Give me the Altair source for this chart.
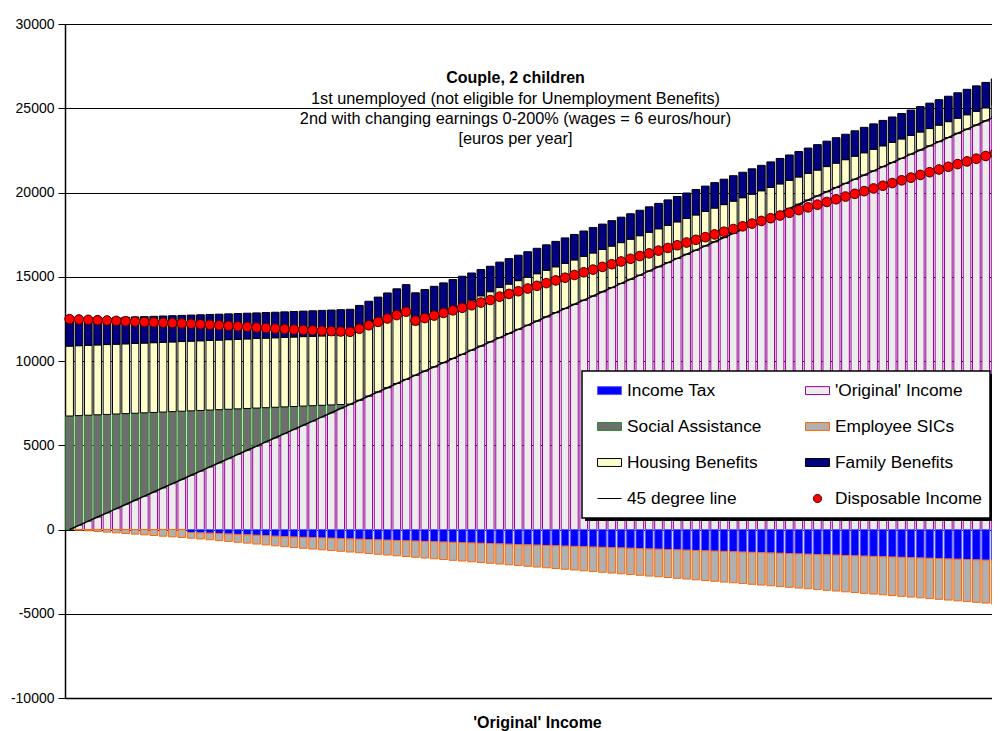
import altair as alt
import pandas as pd

# ---- data (euros per year), one value per 2% earnings step (0..200%)
original_income = [0, 248, 495, 743, 990, 1238, 1485, 1733, 1980, 2228, 2475, 2723, 2970, 3218, 3465, 3713, 3960, 4208, 4455, 4703,
                   4950, 5198, 5445, 5693, 5940, 6188, 6435, 6683, 6930, 7178, 7425, 7673, 7920, 8168, 8415, 8663, 8910, 9158, 9405, 9653,
                   9900, 10148, 10395, 10643, 10890, 11138, 11385, 11633, 11880, 12128, 12375, 12623, 12870, 13118, 13365, 13613, 13860, 14108, 14355, 14603,
                   14850, 15098, 15345, 15593, 15840, 16088, 16335, 16583, 16830, 17078, 17325, 17573, 17820, 18068, 18315, 18563, 18810, 19058, 19305, 19553,
                   19800, 20048, 20295, 20543, 20790, 21038, 21285, 21533, 21780, 22028, 22275, 22523, 22770, 23018, 23265, 23513, 23760, 24008, 24255, 24503,
                   24750]
social_assistance = [6736, 6512, 6288, 6064, 5840, 5616, 5392, 5168, 4944, 4720, 4496, 4272, 4048, 3824, 3600, 3376, 3152, 2928, 2704, 2480,
                     2256, 2032, 1808, 1584, 1360, 1136, 912, 688, 464, 240, 16] + [0] * 70
housing_benefits = [4150, 4149, 4148, 4147, 4146, 4145, 4143, 4142, 4141, 4140, 4139, 4138, 4137, 4136, 4135, 4134, 4132, 4131, 4130, 4129,
                    4128, 4127, 4126, 4125, 4124, 4123, 4121, 4120, 4119, 4118, 4117, 4116, 4115, 4114, 4113, 4112, 4110, 3000, 2995, 2990,
                    2990, 2985, 2985, 2980, 2980, 2975, 2975, 2933, 2890, 2848, 2805, 2763, 2721, 2678, 2636, 2593, 2551, 2509, 2466, 2424,
                    2381, 2339, 2297, 2254, 2212, 2169, 2127, 2085, 2042, 2000, 1957, 1915, 1873, 1830, 1788, 1745, 1703, 1661, 1618, 1576,
                    1533, 1491, 1449, 1406, 1364, 1321, 1279, 1237, 1194, 1152, 1109, 1067, 1025, 982, 940, 897, 855, 813, 770, 728,
                    685]
family_benefits = [1600, 1596, 1592, 1588, 1584, 1580, 1576, 1572, 1568, 1564, 1560, 1556, 1552, 1548, 1544, 1540, 1536, 1532, 1528, 1524,
                   1520, 1518, 1516, 1515, 1514, 1513, 1512, 1511, 1510, 1510, 1510, 1510, 1510, 1510, 1510, 1510, 1510, 1890, 1840, 1790,
                   1745, 1700, 1650, 1600, 1555, 1510] + [1508] * 55
income_tax = [0] * 13 + [177, 198, 219, 242, 265, 290, 315,
              342, 369, 397, 421, 446, 464, 483, 501, 520, 538, 557, 575, 594, 613, 631, 650, 668, 687, 705, 724,
              743, 761, 780, 798, 817, 835, 854, 872, 891, 910, 928, 947, 965, 984, 1002, 1021, 1040, 1058, 1077, 1095,
              1114, 1132, 1151, 1169, 1188, 1207, 1225, 1244, 1262, 1281, 1299, 1318, 1337, 1355, 1374, 1392, 1411, 1429, 1448, 1466,
              1485, 1504, 1522, 1541, 1559, 1578, 1596, 1615, 1634, 1652, 1671, 1689, 1708, 1726, 1745, 1764, 1782, 1801, 1819, 1838,
              1856]
employee_sics = [0, 40, 79, 119, 158, 198, 238, 277, 317, 356, 396, 436, 475, 338, 364, 390, 416, 442, 468, 494,
                 520, 546, 572, 598, 624, 650, 676, 702, 728, 754, 780, 806, 832, 858, 884, 910, 936, 962, 988, 1014,
                 1040, 1066, 1091, 1117, 1143, 1169, 1195, 1221, 1247, 1273, 1299, 1325, 1351, 1377, 1403, 1429, 1455, 1481, 1507, 1533,
                 1559, 1585, 1611, 1637, 1663, 1689, 1715, 1741, 1767, 1793, 1819, 1845, 1871, 1897, 1923, 1949, 1975, 2001, 2027, 2053,
                 2079, 2105, 2131, 2157, 2183, 2209, 2235, 2261, 2287, 2313, 2339, 2365, 2391, 2417, 2443, 2469, 2495, 2521, 2547, 2573,
                 2599]
disposable_income = [12486, 12465, 12444, 12423, 12402, 12381, 12358, 12338, 12316, 12296, 12274, 12253, 12232, 12211, 12182, 12154, 12122, 12092, 12059, 12027,
                     11992, 11960, 11926, 11898, 11868, 11846, 11821, 11799, 11775, 11754, 11731, 11918, 12119, 12321, 12523, 12725, 12926, 12399, 12547, 12695,
                     12852, 13006, 13159, 13308, 13465, 13619, 13819, 13981, 14140, 14301, 14461, 14622, 14783, 14943, 15104, 15264, 15424, 15586, 15745, 15907,
                     16066, 16228, 16388, 16549, 16709, 16869, 17030, 17191, 17351, 17512, 17672, 17833, 17993, 18154, 18314, 18475, 18635, 18797, 18956, 19118,
                     19277, 19438, 19599, 19759, 19920, 20080, 20241, 20402, 20561, 20723, 20882, 21044, 21204, 21365, 21525, 21685, 21846, 22007, 22167, 22328,
                     22488]

# legend order (Vega fills the two legend columns top to bottom)
series_names = ["Income Tax", "Social Assistance", "Housing Benefits", "45 degree line",
                "'Original' Income", "Employee SICs", "Family Benefits", "Disposable Income"]
fill_colors = ["#0000ff", "#6e6e6e", "#ffffcc", "#000000", "#ececec", "#b0b0b0", "#000080", "#ff0000"]
stroke_colors = ["#5a5aff", "#2e8b2e", "#000000", "#000000", "#990099", "#ff6600", "#000000", "#400000"]
RECT = "M-1,-0.33L1,-0.33L1,0.33L-1,0.33Z"
LINE = "M-1,0L1,0"
DOT = "M-0.34,0A0.34,0.34 0 1,0 0.34,0A0.34,0.34 0 1,0 -0.34,0Z"
shapes = [RECT, RECT, RECT, LINE, RECT, RECT, RECT, DOT]

steps = list(range(len(original_income)))

rows = []
bar_series = [
    ("'Original' Income", original_income, 1, 1),
    ("Social Assistance", social_assistance, 2, 1),
    ("Housing Benefits", housing_benefits, 3, 1),
    ("Family Benefits", family_benefits, 4, 1),
    ("Income Tax", income_tax, 1, -1),
    ("Employee SICs", employee_sics, 2, -1),
]
for name, vals, order, sign in bar_series:
    for s, v in zip(steps, vals):
        if v != 0:
            rows.append({"step": s, "series": name, "value": sign * v, "order": order})
bars_df = pd.DataFrame(rows)

line_df = pd.DataFrame({"step": steps, "value": original_income, "series": "45 degree line"})
dots_df = pd.DataFrame({"step": steps, "value": disposable_income, "series": "Disposable Income"})

FONT = "Liberation Sans"

legend = alt.Legend(orient="none", legendX=532, legendY=354, columns=2, columnPadding=40,
                    rowPadding=15, symbolSize=576, labelFontSize=17.3, labelFont=FONT,
                    labelColor="black", labelOffset=5, title=None, symbolStrokeWidth=1,
                    padding=0, labelLimit=0)

fill_scale = alt.Scale(domain=series_names, range=fill_colors)
stroke_scale = alt.Scale(domain=series_names, range=stroke_colors)
shape_scale = alt.Scale(domain=series_names, range=shapes)

x_enc = alt.X("step:O",
              scale=alt.Scale(paddingInner=0.18, paddingOuter=0.08, range=[0, 944]),
              axis=alt.Axis(labels=False, ticks=False, title="'Original' Income",
                            titleFont=FONT, titleFontSize=16, titleFontWeight="bold",
                            titleColor="black", titlePadding=16, domainColor="black",
                            domainWidth=1.5))
y_scale = alt.Scale(domain=[-10000, 30000], nice=False)
y_axis = alt.Axis(values=list(range(-10000, 30001, 5000)), labelExpr="'' + datum.value",
                  title=None, labelFont=FONT, labelFontSize=14, labelColor="black",
                  labelPadding=4, tickSize=7, tickColor="black", domainColor="black",
                  domainWidth=1.5, grid=True, gridColor="black", gridWidth=1)

bars = alt.Chart(bars_df).mark_bar(strokeWidth=1).encode(
    x=x_enc,
    y=alt.Y("value:Q", stack="zero", scale=y_scale, axis=y_axis),
    fill=alt.Fill("series:N", scale=fill_scale, legend=legend),
    stroke=alt.Stroke("series:N", scale=stroke_scale, legend=legend),
    order=alt.Order("order:Q"),
)

line = alt.Chart(line_df).mark_line(strokeWidth=1.5).encode(
    x=alt.X("step:O"),
    y=alt.Y("value:Q"),
    stroke=alt.Stroke("series:N", scale=stroke_scale, legend=legend),
)

dots = alt.Chart(dots_df).mark_point(filled=True, size=800, strokeWidth=1, opacity=1).encode(
    x=alt.X("step:O"),
    y=alt.Y("value:Q"),
    fill=alt.Fill("series:N", scale=fill_scale, legend=legend),
    stroke=alt.Stroke("series:N", scale=stroke_scale, legend=legend),
    shape=alt.Shape("series:N", scale=shape_scale, legend=legend),
)

box_df = pd.DataFrame({"k": [0]})
shadow = alt.Chart(box_df).mark_rect(fill="black").encode(
    x=alt.value(520), x2=alt.value(928), y=alt.value(350), y2=alt.value(497))
frame = alt.Chart(box_df).mark_rect(fill="white", stroke="black", strokeWidth=1.5).encode(
    x=alt.value(517), x2=alt.value(925), y=alt.value(347), y2=alt.value(494))

chart = alt.layer(bars, line, dots, shadow, frame).properties(
    width=927, height=674,
    autosize=alt.AutoSizeParams(type="none"),
    padding={"left": 57, "top": 16, "right": 0, "bottom": 33},
    title=alt.Title(
        text="Couple, 2 children",
        subtitle=["1st unemployed (not eligible for Unemployment Benefits)",
                  "2nd with changing earnings 0-200% (wages = 6 euros/hour)",
                  "[euros per year]"],
        font=FONT, fontSize=16, fontWeight="bold", color="black",
        subtitleFont=FONT, subtitleFontSize=16.3, subtitleColor="black",
        subtitleLineHeight=20, subtitlePadding=5,
        anchor="middle", dx=-13, offset=-130.7),
).configure_view(stroke=None).configure(background="white")

chart.save("out.html", embed_options={"renderer": "svg", "actions": False})
